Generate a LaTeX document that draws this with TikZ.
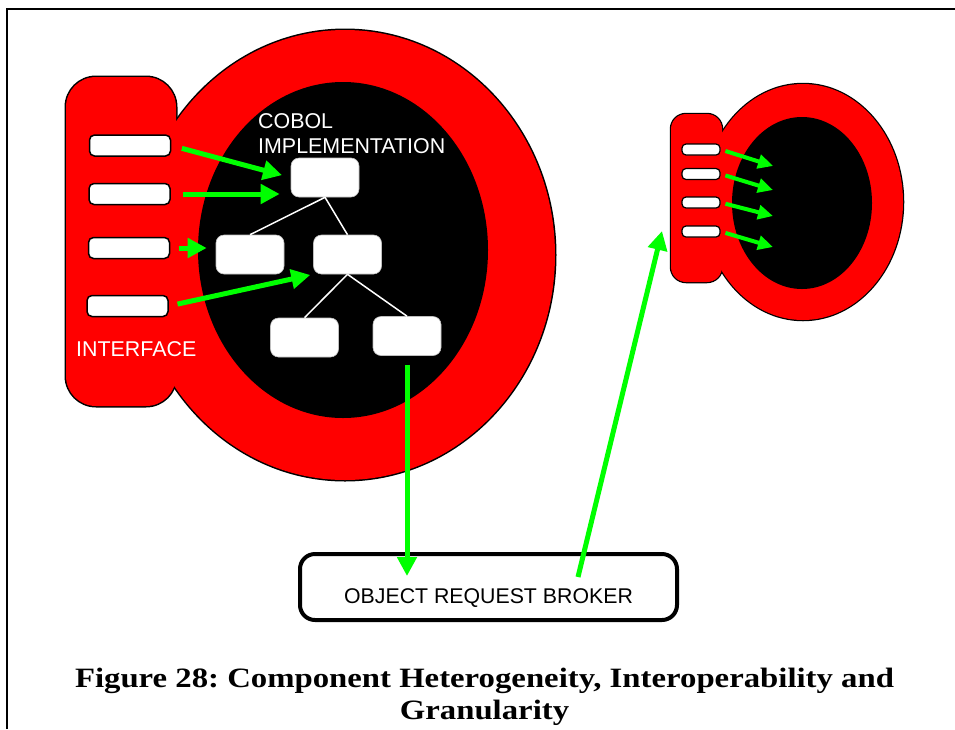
\documentclass[tikz,border=0pt]{standalone}
\usepackage{fontspec}
\setmainfont{Liberation Serif}
\setsansfont{Liberation Sans}
\usetikzlibrary{arrows.meta}

\definecolor{shellred}{RGB}{255,0,0}
\definecolor{linkgreen}{RGB}{0,255,0}

\begin{document}
\frenchspacing
\begin{tikzpicture}[x=1pt, y=-1pt,
    ifbar/.style={draw, line width=1.5pt, fill=white, rounded corners=5pt,
      minimum width=81pt, minimum height=21pt, inner sep=0pt},
    smallbar/.style={draw, line width=1.2pt, fill=white, rounded corners=4pt,
      minimum width=38pt, minimum height=11pt, inner sep=0pt},
    impbox/.style={draw=gray!50, line width=0.6pt, fill=white, rounded corners=8pt,
      minimum width=68pt, minimum height=39pt, inner sep=0pt},
    link/.style={draw=linkgreen, line width=5pt, -{Triangle[length=19pt,width=19pt]}},
    smalllink/.style={draw=linkgreen, line width=4pt, -{Triangle[length=15pt,width=14pt]}},
    whitelabel/.style={text=white, font=\sffamily\fontsize{21.4}{25}\selectfont, inner sep=0pt},
    captionline/.style={font=\bfseries\fontsize{28}{32}\selectfont, inner sep=0pt, anchor=base},
  ]
  \useasboundingbox (0,0) rectangle (955,729);
  \draw[line width=2.5pt] (7,729) -- (7,9) -- (955,9);

  % COBOL component
  \draw[line width=3pt] (345,255) ellipse (210 and 225);
  \draw[line width=3pt, rounded corners=30pt] (66,77) rectangle (176,406);
  \fill[shellred] (345,255) ellipse (210 and 225);
  \fill[shellred, rounded corners=30pt] (66,77) rectangle (176,406);
  \fill (343,250) ellipse (145 and 168);

  \node[ifbar] (if1) at (130,145.5) {};
  \node[ifbar] (if2) at (129.5,194) {};
  \node[ifbar] (if3) at (129,248) {};
  \node[ifbar] (if4) at (127.5,306) {};
  \node[whitelabel, anchor=base west] (iflabel) at (76,356) {INTERFACE};
  \node[whitelabel, anchor=north west, align=left] (implabel) at (258,113.5)
    {COBOL\\IMPLEMENTATION};

  \node[impbox] (top) at (325,177.5) {};
  \node[impbox] (ml) at (250,254.5) {};
  \node[impbox] (mr) at (347.5,254.5) {};
  \node[impbox] (bl) at (304.5,337.5) {};
  \node[impbox] (br) at (407,336) {};
  \draw[white, line width=1.5pt] (top.south) -- (ml.north);
  \draw[white, line width=1.5pt] (top.south) -- (mr.north);
  \draw[white, line width=1.5pt] (mr.south) -- (bl.north);
  \draw[white, line width=1.5pt] (mr.south) -- (br.north);

  % small component
  \draw[line width=2.5pt] (803,202) ellipse (100 and 118);
  \draw[line width=2.5pt, rounded corners=15pt] (671,114) rectangle (722,282);
  \fill[shellred] (803,202) ellipse (100 and 118);
  \fill[shellred, rounded corners=15pt] (671,114) rectangle (722,282);
  \fill (802,203) ellipse (70 and 86);

  \node[smallbar] (sb1) at (701,149.5) {};
  \node[smallbar] (sb2) at (701,174) {};
  \node[smallbar] (sb3) at (701,202.5) {};
  \node[smallbar] (sb4) at (701,231.5) {};

  % broker
  \node[draw, line width=4pt, rounded corners=15pt, minimum width=377pt,
    minimum height=66pt] (orb) at (488.5,587) {};
  \node[font=\sffamily\fontsize{21.3}{25}\selectfont, inner sep=0pt]
    (orblabel) at ([yshift=-11pt]orb.center) {OBJECT REQUEST BROKER};

  \draw[link, shorten <=11pt, shorten >=9pt] (if1.east) -- (top.west);
  \draw[link, shorten <=12pt, shorten >=11pt] (if2.east) -- (if2.east -| top.west);
  \draw[link, shorten <=9pt, shorten >=9pt] (if3.east) -- (if3.east -| ml.west);
  \draw[link, shorten <=9pt, shorten >=3pt] (if4.east) -- (mr.south west);
  \draw[link, shorten <=9pt, shorten >=11pt] (br.south) -- (br.south |- orb.center);

  \coordinate (brk) at (578,577);
  \coordinate (rin) at (662,231);
  \draw[link] (brk) -- (rin);

  \foreach \i/\y in {1/166, 2/190, 3/216, 4/247} {
    \coordinate (tip\i) at (773,\y);
    \draw[smalllink, shorten <=5pt] (sb\i.east) -- (tip\i);
  }

  \node[captionline] (cap1) at (484.5,687)
    {\scalebox{1.17}[1]{Figure 28: Component Heterogeneity, Interoperability and}};
  \node[captionline] (cap2) at (484.5,719)
    {\scalebox{1.17}[1]{Granularity}};
\end{tikzpicture}
\end{document}
